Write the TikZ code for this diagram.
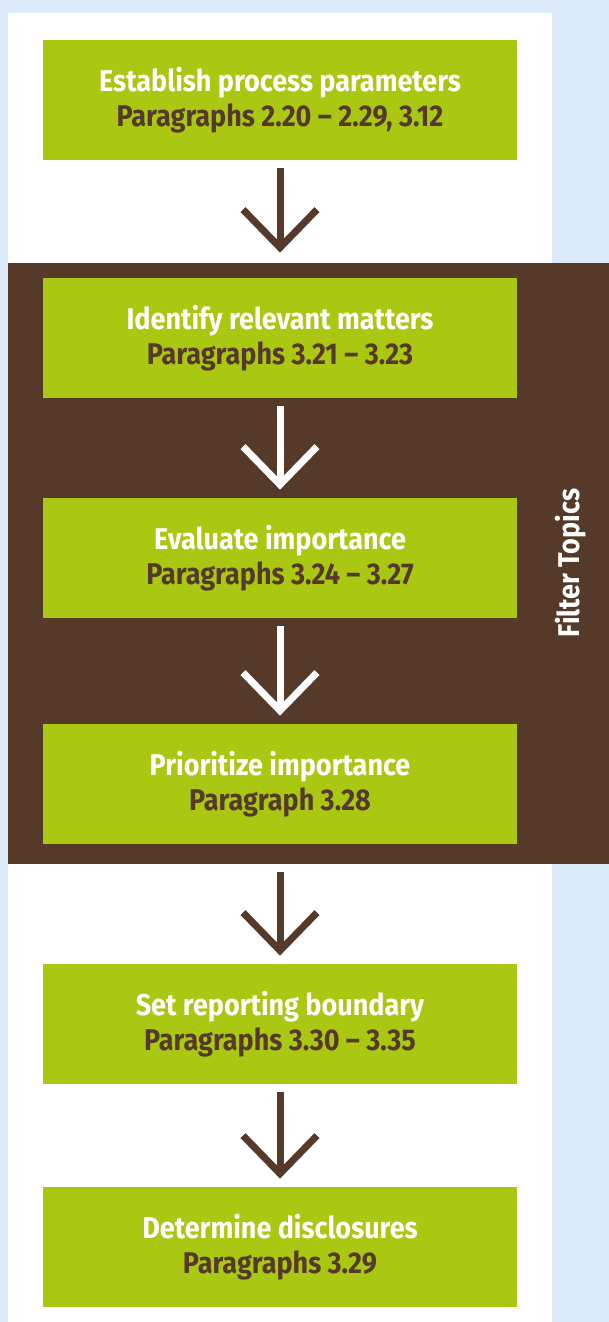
\documentclass[tikz,border=0pt]{standalone}
\usepackage{fontspec}
\setmainfont{Fira Sans}[FakeStretch=0.9]
\usetikzlibrary{arrows.meta}
\definecolor{bgblue}{HTML}{DCEBFA}
\definecolor{leaf}{HTML}{AAC712}
\definecolor{bark}{HTML}{553A2A}
\tikzset{
  stepbox/.style={fill=leaf, minimum width=237pt, minimum height=60pt, align=center,
    font=\fontsize{15}{17.5}\selectfont\bfseries, text=white},
  flow/.style={line width=3.5pt, -{Straight Barb[length=19pt, width=37pt]},
    shorten <=4pt, shorten >=4pt}
}
\newcommand{\para}[1]{\\\textcolor{bark}{#1}}
\begin{document}
\begin{tikzpicture}[x=0.5pt, y=-0.5pt]
      \useasboundingbox (0,0) rectangle (609,1322);
      \fill[bgblue] (0,0) rectangle (609,1322);
      \fill[white] (8,13) rectangle (552,1322);
      \fill[bark] (8,263) rectangle (609,864);
      \draw
        (280,100) node[stepbox] (0){Establish process parameters\para{Paragraphs 2.20 -- 2.29, 3.12}}
        (280,338) node[stepbox] (1){Identify relevant matters\para{Paragraphs 3.21 -- 3.23}}
        (280,558) node[stepbox] (2){Evaluate importance\para{Paragraphs 3.24 -- 3.27}}
        (280,784) node[stepbox] (3){Prioritize importance\para{Paragraph 3.28}}
        (280,1024) node[stepbox] (4){Set reporting boundary\para{Paragraphs 3.30 -- 3.35}}
        (280,1247) node[stepbox] (5){Determine disclosures\para{Paragraphs 3.29}};
      \node[rotate=90, text=white, font=\fontsize{15}{17}\selectfont\bfseries] (topics) at (571,563) {Filter Topics};
      \begin{scope}[flow]
        \draw[bark, shorten >=12.5pt] (0) to (1);
        \draw[white] (1) to (2);
        \draw[white] (2) to (3);
        \draw[bark, shorten <=14pt] (3) to (4);
        \draw[bark] (4) to (5);
      \end{scope}
    \end{tikzpicture}
\end{document}
